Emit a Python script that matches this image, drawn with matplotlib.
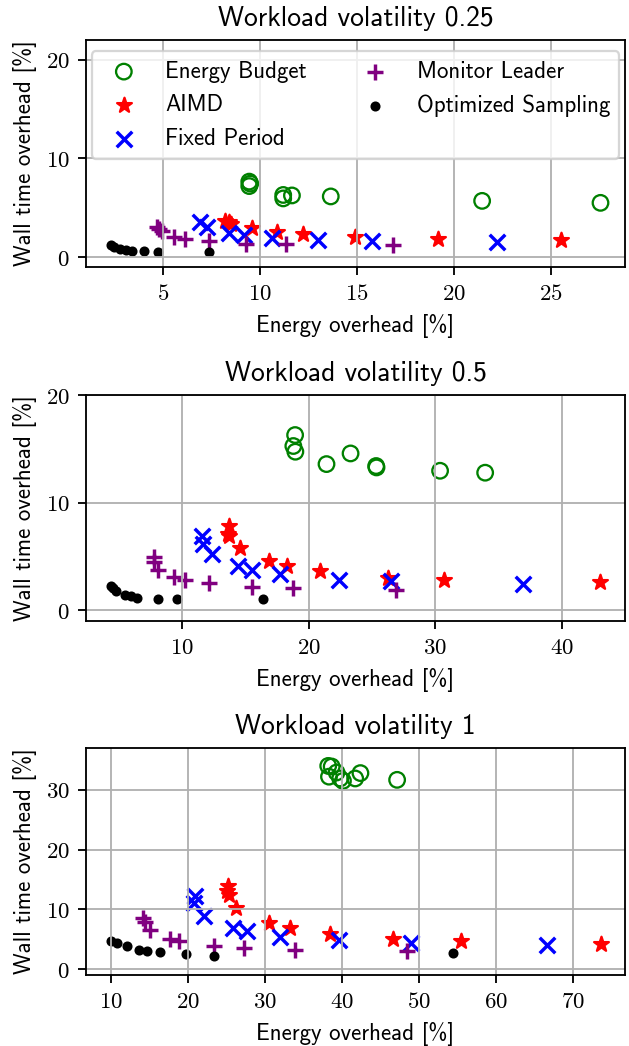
import matplotlib
matplotlib.use("Agg")
import matplotlib.pyplot as plt
from matplotlib.ticker import MultipleLocator, FuncFormatter

plt.rcParams['font.family'] = ['cmss10', 'DejaVu Sans']
plt.rcParams['mathtext.fontset'] = 'cm'
plt.rcParams['font.size'] = 10
plt.rcParams['axes.unicode_minus'] = False

labels = ['Energy Budget', 'AIMD', 'Fixed Period', 'Monitor Leader', 'Optimized Sampling']
volatilities = ['0.25', '0.5', '1']

# volatility 0.25
eb_x_025 = [9.45, 9.5, 9.45, 11.2, 11.2, 11.65, 13.65, 21.45, 27.55]
eb_y_025 = [7.65, 7.45, 7.2, 6.3, 5.95, 6.25, 6.15, 5.7, 5.5]
aimd_x_025 = [8.2, 8.4, 8.5, 9.6, 10.9, 12.2, 14.9, 19.2, 25.5]
aimd_y_025 = [3.7, 3.55, 3.4, 3.0, 2.55, 2.3, 2.0, 1.8, 1.7]
fixed_x_025 = [6.9, 7.25, 8.4, 9.2, 10.6, 13.0, 15.8, 22.2]
fixed_y_025 = [3.55, 3.1, 2.45, 2.2, 1.95, 1.75, 1.65, 1.55]
mon_x_025 = [4.68, 4.8, 4.95, 5.58, 6.12, 7.37, 9.26, 11.33, 16.87]
mon_y_025 = [3.1, 2.9, 2.65, 2.05, 1.85, 1.65, 1.35, 1.3, 1.2]
opt_x_025 = [2.3, 2.5, 2.8, 3.1, 3.4, 4.05, 4.75, 7.4]
opt_y_025 = [1.25, 1.0, 0.8, 0.7, 0.65, 0.58, 0.55, 0.5]

# volatility 0.5
eb_x_05 = [18.92, 18.78, 18.94, 21.4, 23.3, 25.32, 25.35, 30.37, 33.93]
eb_y_05 = [16.28, 15.26, 14.73, 13.58, 14.57, 13.4, 13.27, 12.96, 12.78]
aimd_x_05 = [13.73, 13.64, 13.73, 14.55, 16.85, 18.28, 20.9, 26.23, 30.65, 43.04]
aimd_y_05 = [7.81, 7.07, 6.88, 5.8, 4.59, 4.09, 3.66, 3.04, 2.85, 2.64]
fixed_x_05 = [11.6, 11.66, 12.35, 14.42, 15.52, 17.73, 22.42, 26.5, 36.9]
fixed_y_05 = [6.9, 6.2, 5.27, 4.09, 3.72, 3.35, 2.85, 2.7, 2.48]
mon_x_05 = [7.74, 7.79, 8.12, 9.39, 10.22, 12.13, 15.52, 18.78, 26.92]
mon_y_05 = [4.96, 4.5, 3.78, 3.1, 2.85, 2.54, 2.17, 2.02, 1.86]
opt_x_05 = [4.34, 4.53, 4.76, 5.45, 5.92, 6.47, 8.07, 9.61, 16.35]
opt_y_05 = [2.23, 2.02, 1.8, 1.4, 1.3, 1.18, 1.09, 1.02, 1.05]

# volatility 1
eb_x_1 = [38.25, 38.7, 38.35, 39.34, 39.8, 40.16, 41.75, 42.43, 47.19]
eb_y_1 = [34.0, 33.9, 32.2, 32.9, 31.9, 31.5, 31.9, 32.8, 31.67]
aimd_x_1 = [25.19, 25.1, 25.42, 26.24, 30.63, 33.27, 38.48, 46.64, 55.49, 73.58]
aimd_y_1 = [13.88, 13.0, 12.31, 10.24, 7.72, 6.88, 5.93, 5.04, 4.64, 4.25]
fixed_x_1 = [21.02, 20.88, 22.11, 25.87, 27.69, 32.0, 39.7, 49.0, 66.6]
fixed_y_1 = [12.2, 11.08, 8.95, 6.88, 6.32, 5.37, 4.81, 4.36, 4.08]
mon_x_1 = [14.22, 14.54, 15.12, 17.71, 18.84, 23.38, 27.32, 33.9, 48.41]
mon_y_1 = [8.56, 7.83, 6.6, 5.04, 4.76, 3.8, 3.53, 3.25, 2.97]
opt_x_1 = [10.0, 10.9, 12.18, 13.76, 14.76, 16.39, 19.84, 23.38, 54.44]
opt_y_1 = [4.64, 4.36, 3.92, 3.25, 3.08, 2.8, 2.52, 2.24, 2.69]

panels = [
    [(eb_x_025, eb_y_025), (aimd_x_025, aimd_y_025), (fixed_x_025, fixed_y_025),
     (mon_x_025, mon_y_025), (opt_x_025, opt_y_025)],
    [(eb_x_05, eb_y_05), (aimd_x_05, aimd_y_05), (fixed_x_05, fixed_y_05),
     (mon_x_05, mon_y_05), (opt_x_05, opt_y_05)],
    [(eb_x_1, eb_y_1), (aimd_x_1, aimd_y_1), (fixed_x_1, fixed_y_1),
     (mon_x_1, mon_y_1), (opt_x_1, opt_y_1)],
]
y_tops = [22, 20, 37]
x_steps = [5, 10, 10]

dpi = 165
fig = plt.figure(figsize=(629 / dpi, 1046 / dpi), dpi=dpi)
W, H = 629.0, 1046.0
boxes = [(40, 267), (395, 621), (748, 975)]
ms = 46

mathfmt = FuncFormatter(lambda v, p: '$%g$' % v)

for i, (top, bot) in enumerate(boxes):
    ax = fig.add_axes([86 / W, (H - bot) / H, 539 / W, (bot - top) / H])
    data = panels[i]
    ax.scatter(data[0][0], data[0][1], s=ms, marker='o', facecolors='none', edgecolors='green', label=labels[0])
    ax.scatter(data[1][0], data[1][1], s=ms, marker='*', color='red', label=labels[1])
    ax.scatter(data[2][0], data[2][1], s=ms, marker='x', color='blue', label=labels[2])
    ax.scatter(data[3][0], data[3][1], s=ms, marker='+', color='purple', label=labels[3])
    ax.scatter(data[4][0], data[4][1], s=ms, marker='.', color='black', label=labels[4])
    ax.set_ylim(-1, y_tops[i])
    ax.xaxis.set_major_locator(MultipleLocator(x_steps[i]))
    ax.yaxis.set_major_locator(MultipleLocator(10))
    ax.xaxis.set_major_formatter(mathfmt)
    ax.yaxis.set_major_formatter(mathfmt)
    ax.grid(True)
    ax.set_title('Workload volatility ' + volatilities[i])
    ax.set_xlabel('Energy overhead [%]')
    ax.set_ylabel('Wall time overhead [%]')
    if i == 0:
        ax.legend(ncol=2, loc='upper center')

fig.savefig('out.png', dpi=dpi)
